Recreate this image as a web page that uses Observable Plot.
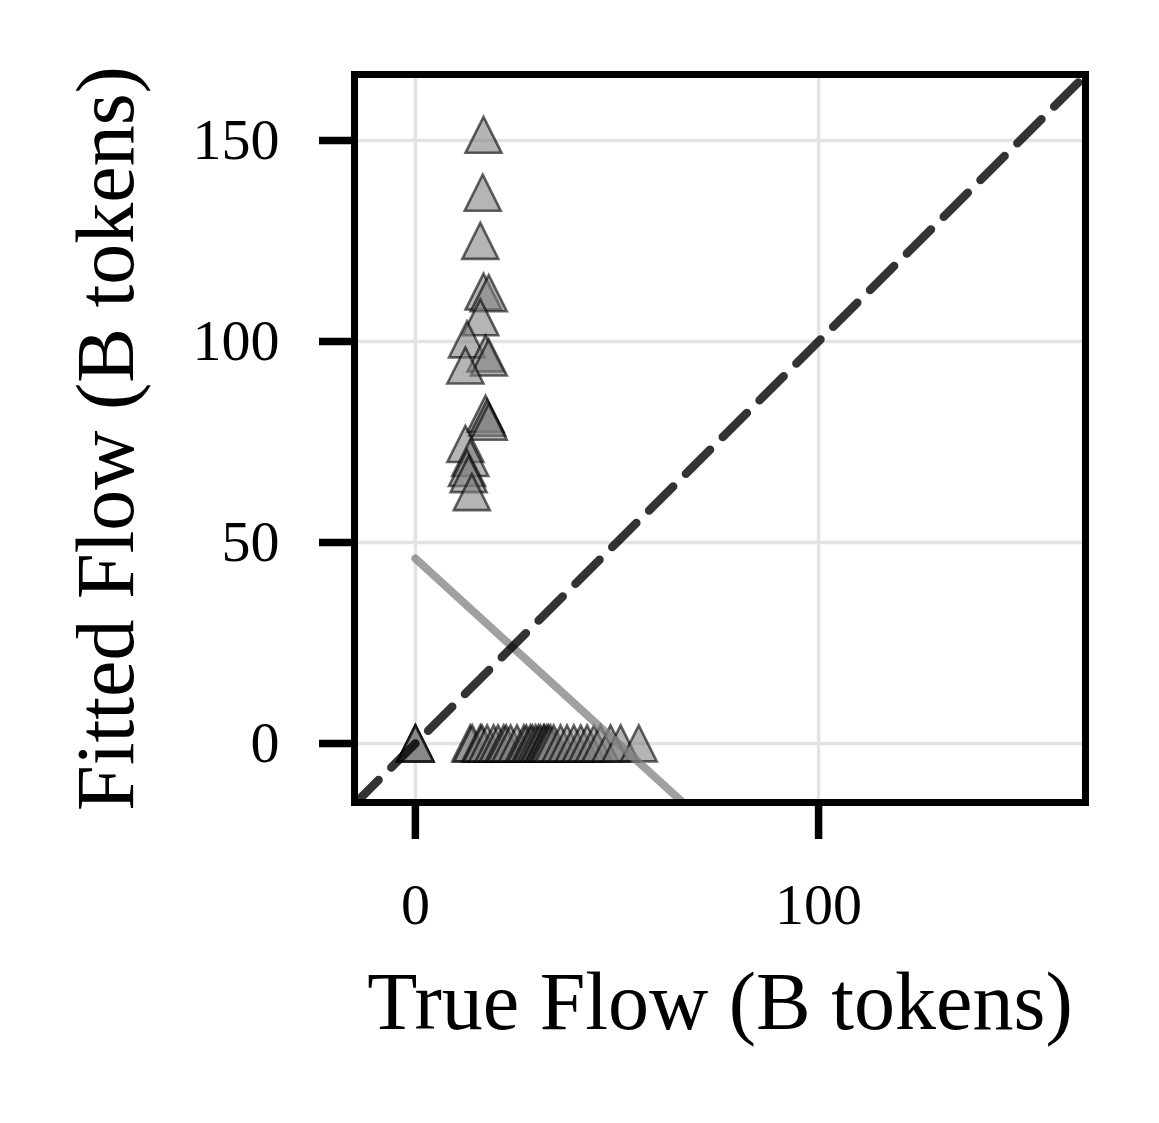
<!DOCTYPE html>
<html>
<head>
<meta charset="utf-8">
<script src="https://cdn.jsdelivr.net/npm/d3@7"></script>
<script src="https://cdn.jsdelivr.net/npm/@observablehq/plot@0.6"></script>
<style>
  html, body { margin: 0; padding: 0; background: white; }
  #chart svg { display: block; }
</style>
</head>
<body>
<div id="chart"></div>
<script>
// ---- data ----
const trueFlow = [
  16.9, 16.7, 16.1, 16.9, 18.2, 16.1, 12.8, 17.4, 18.2, 12.4,
  17.4, 17.8, 18.2, 12.4, 13.6, 12.8, 13.2, 14.0,
  0, 0, 0,
  13.6, 14.1, 16.1, 16.5, 17.8, 19.4, 20.5, 21.9, 22.5, 23.6, 25.2, 26.9, 27.5,
  28.5, 29.0, 29.8, 30.5, 31.0, 31.8, 32.0, 32.6, 33.0, 33.5, 34.3, 36.0, 37.6,
  39.3, 41.0, 42.6, 44.3, 45.9, 48.4, 50.9, 55.4
];
const fittedFlow = [
  151.4, 137.0, 125.0, 112.4, 112.0, 106.0, 100.5, 97.0, 96.0, 94.0,
  82.0, 81.0, 80.0, 74.5, 71.0, 68.5, 67.0, 62.5,
  0, 0, 0,
  0, 0, 0, 0, 0, 0, 0, 0, 0, 0, 0, 0, 0,
  0, 0, 0, 0, 0, 0, 0, 0, 0, 0, 0, 0, 0,
  0, 0, 0, 0, 0, 0, 0, 0
];
const fitLineX = [0, 80];
const fitLineY = [46.0, -27.2];
const identityX = [-15.1, 170];
const identityY = [-15.1, 170];
const xTicks = [0, 100];
const yTicks = [0, 50, 100, 150];
const xDomain = [-15.1, 166.2];
const yDomain = [-14.7, 166.4];
const xLabel = "True Flow (B tokens)";
const yLabel = "Fitted Flow (B tokens)";

const points = trueFlow.map((x, i) => ({x, y: fittedFlow[i]}));
const fitLine = fitLineX.map((x, i) => ({x, y: fitLineY[i]}));
const identity = identityX.map((x, i) => ({x, y: identityY[i]}));

// matplotlib-like "^" marker (isosceles, width == height)
const triangle = {
  draw(ctx, size) {
    const r = Math.sqrt(size / Math.PI);
    ctx.moveTo(0, -r);
    ctx.lineTo(r, r);
    ctx.lineTo(-r, r);
    ctx.closePath();
  }
};

const font = "'Liberation Serif', 'Times New Roman', serif";

const chart = Plot.plot({
  width: 1159,
  height: 1123,
  marginLeft: 354,
  marginRight: 74,
  marginTop: 74,
  marginBottom: 321,
  style: {fontFamily: font, background: "white", color: "black"},
  x: {domain: xDomain},
  y: {domain: yDomain},
  marks: [
    Plot.gridX(xTicks, {stroke: "#e3e3e3", strokeOpacity: 1, strokeWidth: 3.5}),
    Plot.gridY(yTicks, {stroke: "#e3e3e3", strokeOpacity: 1, strokeWidth: 3.5}),
    Plot.dot(points, {
      x: "x", y: "y", r: 18, symbol: triangle,
      fill: "gray", fillOpacity: 0.58,
      stroke: "black", strokeOpacity: 0.6, strokeWidth: 2.6
    }),
    Plot.line(fitLine, {x: "x", y: "y", stroke: "gray", strokeOpacity: 0.75, strokeWidth: 8, clip: true}),
    Plot.line(identity, {x: "x", y: "y", stroke: "black", strokeOpacity: 0.8, strokeWidth: 8.5, strokeDasharray: "34,18", clip: true}),
    Plot.frame({stroke: "black", strokeWidth: 7}),
    Plot.axisX(xTicks, {tickSize: 37, tickPadding: 43, fontSize: 58, strokeWidth: 7.5, label: null, tickFormat: d => String(d)}),
    Plot.axisY(yTicks, {tickSize: 35, tickPadding: 40, fontSize: 58, strokeWidth: 7.5, label: null, tickFormat: d => String(d)}),
    Plot.text([xLabel], {frameAnchor: "bottom", text: d => d, dy: 200, fontSize: 82, lineAnchor: "middle", textAnchor: "middle", fill: "black"}),
    Plot.text([yLabel], {frameAnchor: "left", text: d => d, dx: -248, rotate: -90, fontSize: 82, lineAnchor: "middle", textAnchor: "middle", fill: "black"})
  ]
});
document.getElementById("chart").appendChild(chart);
</script>
</body>
</html>
